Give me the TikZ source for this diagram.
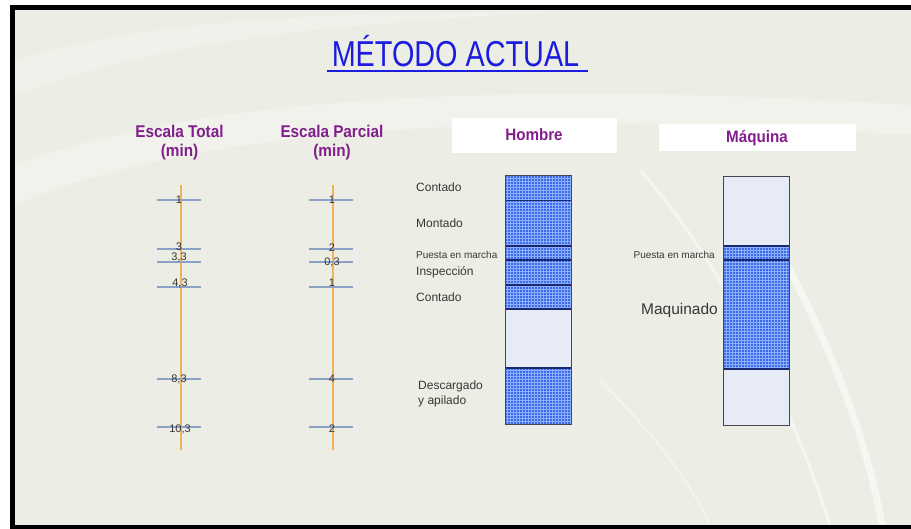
\documentclass[tikz,border=0pt]{standalone}
\usepackage{fontspec}
\usepackage{graphicx}
\setmainfont{Liberation Sans}
\usetikzlibrary{patterns}
\definecolor{bg}{RGB}{236,237,228}
\definecolor{titleblue}{RGB}{28,28,225}
\definecolor{purp}{RGB}{130,30,140}
\definecolor{scaleor}{RGB}{242,178,90}
\definecolor{tickc}{RGB}{140,160,200}
\definecolor{barblue}{RGB}{60,105,230}
\definecolor{gridc}{RGB}{140,175,255}
\definecolor{divc}{RGB}{25,40,110}
\definecolor{emptyc}{RGB}{231,235,246}
\definecolor{txt}{RGB}{55,55,55}
\definecolor{outl}{RGB}{70,70,80}
\begin{document}
\begin{tikzpicture}[x=1pt,y=-1pt,
  busy/.style={preaction={fill=barblue},pattern=grid,pattern color=gridc},
  idle/.style={fill=emptyc},
  divline/.style={draw=divc,line width=1.8pt},
  outline/.style={draw=outl,line width=1pt},
  scaleline/.style={draw=scaleor,line width=1.4pt},
  tick/.style={draw=tickc,line width=1.2pt},
  ticklab/.style={anchor=base,inner sep=0pt,text=txt,font=\fontsize{11}{11}\selectfont},
  head/.style={anchor=base,inner sep=0pt,text=purp,font=\fontsize{17}{17}\selectfont\bfseries},
  colhead/.style={anchor=base,inner sep=0pt,text=purp,font=\fontsize{16.5}{16.5}\selectfont\bfseries},
  actlab/.style={anchor=base west,inner sep=0pt,text=txt,font=\fontsize{12}{12}\selectfont},
  smalllab/.style={inner sep=0pt,text=txt,font=\fontsize{10}{10}\selectfont},
  headbox/.style={fill=white,draw=none}]
\useasboundingbox (0,0) rectangle (911,529);
% background
\fill[white] (0,0) rectangle (911,529);
\fill[bg] (12,7) rectangle (911,526);
\fill[white,opacity=0.3] (15,165) .. controls (200,95) and (520,80) .. (911,105) -- (911,135) .. controls (520,110) and (200,125) .. (15,205) -- cycle;
\fill[white,opacity=0.25] (15,60) .. controls (150,20) and (300,15) .. (480,12) -- (560,12) .. controls (300,25) and (150,45) .. (15,95) -- cycle;
\draw[white,opacity=0.5,line width=3pt] (640,170) .. controls (720,260) and (790,400) .. (830,525);
\draw[white,opacity=0.55,line width=7pt] (765,225) .. controls (825,330) and (865,430) .. (882,525);
\draw[white,opacity=0.4,line width=2pt] (600,380) .. controls (650,430) and (690,480) .. (710,525);
% frame
\draw[black,line width=5pt] (911,7.5) -- (12.5,7.5) -- (12.5,529);
\draw[black,line width=3.5pt] (12,527.2) -- (911,527.2);
% title
\node[anchor=base,inner sep=0pt,text=titleblue,font=\fontsize{36}{36}\selectfont] (title) at (455.5,67) {\scalebox{0.80}[1]{MÉTODO ACTUAL}};
\draw[titleblue,line width=1.6pt] (327,71) -- (588,71);
% scale headers
\node[head] (tot1) at (179.5,138) {\scalebox{0.9}[1]{Escala Total}};
\node[head] (tot2) at (179.5,157) {\scalebox{0.9}[1]{(min)}};
\node[head] (par1) at (332,138) {\scalebox{0.9}[1]{Escala Parcial}};
\node[head] (par2) at (332,157) {\scalebox{0.9}[1]{(min)}};
% column headers
\fill[headbox] (452,118) rectangle (617,153);
\node[colhead] (hombre) at (534,141) {\scalebox{0.92}[1]{Hombre}};
\fill[headbox] (659,124) rectangle (856,151);
\node[colhead] (maquina) at (757,143) {\scalebox{0.92}[1]{Máquina}};
% total scale
\draw[scaleline] (181,185) -- (181,450);
\foreach \yy in {200,249,262,287,379,427} {\draw[tick] (157,\yy) -- (201,\yy);}
\node[ticklab] (t1) at (179,204) {1};
\node[ticklab] (t2) at (179,251) {3};
\node[ticklab] (t3) at (179,261) {3,3};
\node[ticklab] (t4) at (180,287) {4,3};
\node[ticklab] (t5) at (179,383) {8,3};
\node[ticklab] (t6) at (180,432) {10,3};
% partial scale
\draw[scaleline] (333,185) -- (333,450);
\foreach \yy in {200,249,262,287,379,427} {\draw[tick] (309,\yy) -- (353,\yy);}
\node[ticklab] (p1) at (332,204) {1};
\node[ticklab] (p2) at (332,252) {2};
\node[ticklab] (p3) at (332,266) {0,3};
\node[ticklab] (p4) at (332,287) {1};
\node[ticklab] (p5) at (332,383) {4};
\node[ticklab] (p6) at (332,432) {2};
% Hombre bar
\fill[busy] (505,176) rectangle (571,309);
\fill[idle] (505,309) rectangle (571,368);
\fill[busy] (505,368) rectangle (571,425);
\foreach \yy in {200.5,246,260,285,309,368} {\draw[divline] (505,\yy) -- (571,\yy);}
\draw[outline] (505,176) rectangle (571,425);
\node[actlab] (h1) at (416,192) {Contado};
\node[actlab] (h2) at (416,228) {Montado};
\node[smalllab,anchor=base west] (h3) at (416,258.5) {Puesta en marcha};
\node[actlab] (h4) at (416,276) {Inspección};
\node[actlab] (h5) at (416,302) {Contado};
\node[actlab] (h6) at (418,390) {Descargado};
\node[actlab] (h7) at (418,404.5) {y apilado};
% Maquina bar
\fill[idle] (723,177) rectangle (789,246);
\fill[busy] (723,246) rectangle (789,369);
\fill[idle] (723,369) rectangle (789,426);
\foreach \yy in {246,260,369} {\draw[divline] (723,\yy) -- (789,\yy);}
\draw[outline] (723,177) rectangle (789,426);
\node[smalllab,anchor=base east] (m1) at (715,259) {Puesta en marcha};
\node[inner sep=0pt,anchor=base east,text=txt,font=\fontsize{15.5}{15.5}\selectfont] (m2) at (718,315) {Maquinado};
\end{tikzpicture}
\end{document}
